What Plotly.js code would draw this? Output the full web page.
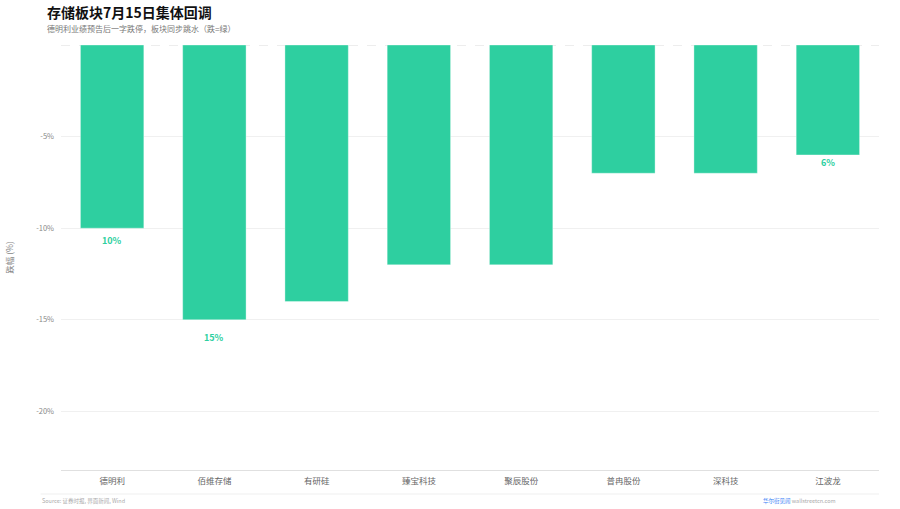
<!DOCTYPE html>
<html>
<head>
<meta charset="utf-8">
<script src="https://cdn.plot.ly/plotly-3.0.1.min.js"></script>
<style>
  html, body { margin: 0; padding: 0; background: #fff; }
  #chart { width: 900px; height: 509px; }
</style>
</head>
<body>
<div id="chart"></div>
<script>
// stocks and their drop on July 15 (%)
const stocks = ['德明利', '佰维存储', '有研硅', '臻宝科技', '聚辰股份', '普冉股份', '深科技', '江波龙'];
const drops = [-10, -15, -14, -12, -12, -7, -7, -6];
const labels = ['10%', '15%', '', '', '', '', '', '6%'];
const yTicks = [-20, -15, -10, -5];
const yTickText = ['-20%', '-15%', '-10%', '-5%'];

const cjk = '"Noto Sans CJK SC", "Noto Sans", sans-serif';
const green = '#2ecfa0';

const trace = {
    x: stocks,
    y: drops,
    type: 'bar',
    marker: { color: green, line: { color: 'rgba(255,255,255,0.35)', width: 1 } },
    hoverinfo: 'x+y'
};

// value labels sit a little below the bar end
const valueNotes = stocks
    .map((s, i) => ({ s, i }))
    .filter(d => labels[d.i] !== '')
    .map(d => ({
        x: d.s, y: drops[d.i] * 1.065, xref: 'x', yref: 'y',
        text: '<b>' + labels[d.i] + '</b>', showarrow: false,
        xanchor: 'center', yanchor: 'middle',
        font: { size: 9, color: green }
    }));

const layout = {
    width: 900,
    height: 509,
    margin: { l: 61, r: 21, t: 45, b: 39 },
    paper_bgcolor: '#fff',
    plot_bgcolor: '#fff',
    font: { family: cjk, color: '#666' },
    showlegend: false,
    bargap: 0.38,
    xaxis: {
        type: 'category',
        showgrid: false,
        showline: true,
        linecolor: '#e0e0e0',
        linewidth: 1,
        ticks: '',
        ticklabelstandoff: 3,
        tickfont: { size: 8.5, color: '#666' },
        fixedrange: true
    },
    yaxis: {
        range: [-23.2, 0],
        tickvals: yTicks,
        ticktext: yTickText,
        showgrid: true,
        gridcolor: '#f0f0f0',
        zeroline: false,
        showline: false,
        ticks: '',
        ticklabelstandoff: 6,
        tickfont: { size: 7.5, color: '#888' },
        title: { text: '跌幅 (%)', font: { size: 8.5, color: '#888' }, standoff: 21 },
        fixedrange: true
    },
    shapes: [
        // dashed zero line
        { type: 'line', xref: 'paper', yref: 'y', x0: 0, x1: 1, y0: 0, y1: 0,
          line: { color: '#dcdcdc', width: 1, dash: 'dash' }, layer: 'below' },
        // footer separator
        { type: 'line', xref: 'paper', yref: 'paper', x0: -0.025, x1: 1, y0: -0.0565, y1: -0.0565,
          line: { color: '#efefef', width: 1 } }
    ],
    annotations: valueNotes.concat([
        { text: '<b>存储板块7月15日集体回调</b>', xref: 'paper', yref: 'paper',
          x: -0.019, y: 1.0776, xanchor: 'left', yanchor: 'middle', showarrow: false,
          font: { size: 14, color: '#111' } },
        { text: '德明利业绩预告后一字跌停，板块同步跳水（跌=绿）', xref: 'paper', yref: 'paper',
          x: -0.019, y: 1.038, xanchor: 'left', yanchor: 'middle', showarrow: false,
          font: { size: 8, color: '#777' } },
        { text: 'Source: 证券时报, 界面新闻, Wind', xref: 'paper', yref: 'paper',
          x: -0.026, y: -0.073, xanchor: 'left', yanchor: 'middle', showarrow: false,
          font: { size: 5.5, color: '#aaa' } },
        { text: '<span style="color:#3b82f6">华尔街见闻</span> <span style="color:#aaa">wallstreetcn.com</span>',
          xref: 'paper', yref: 'paper',
          x: 0.95, y: -0.073, xanchor: 'right', yanchor: 'middle', showarrow: false,
          font: { size: 5.5 } }
    ])
};

Plotly.newPlot('chart', [trace], layout, { displayModeBar: false, staticPlot: true });
</script>
</body>
</html>
